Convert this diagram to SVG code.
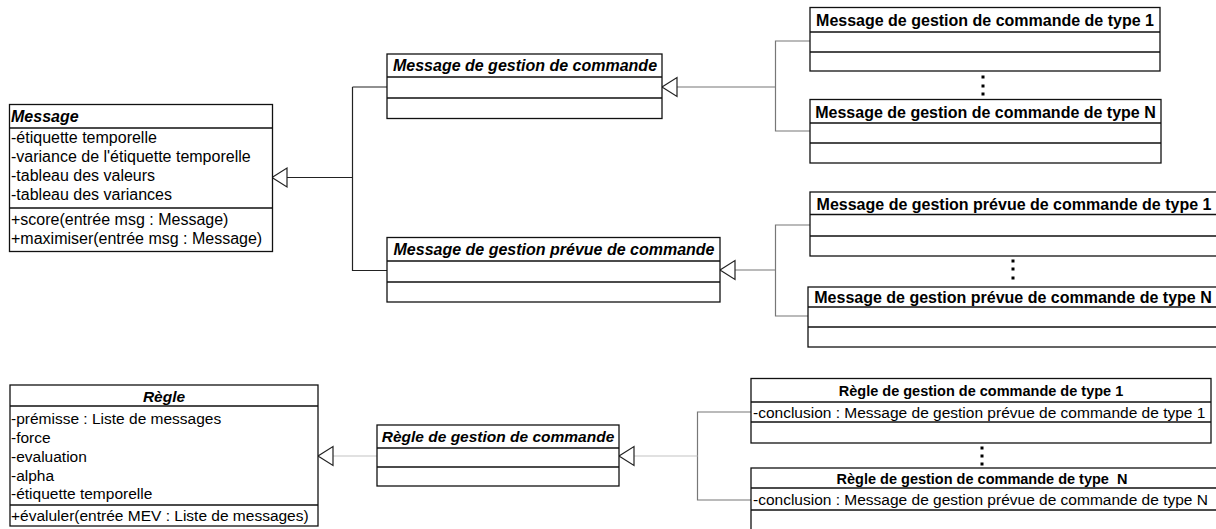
<svg xmlns="http://www.w3.org/2000/svg" width="1216" height="529" viewBox="0 0 1216 529">
<defs>
<marker id="gen" viewBox="0 0 15 20" refX="15" refY="10" markerWidth="15" markerHeight="20" markerUnits="userSpaceOnUse" orient="auto" overflow="visible">
<path d="M15,10 L0,0.5 L0,19.5 Z" fill="#fff" stroke="#222" stroke-width="1.2"/>
</marker>
</defs>
<style>
.box{fill:#fff;stroke:#111;stroke-width:1.3}
.div{stroke:#111;stroke-width:1.3;fill:none}
text{font-family:"Liberation Sans",Arial,sans-serif;fill:#000}
.abs{font-weight:bold;font-style:italic;font-size:16px}
.absr{font-weight:bold;font-style:italic;font-size:15.5px}
.con{font-weight:bold;font-size:16px}
.conr{font-weight:bold;font-size:14.5px}
.att{font-size:16px}
.attr{font-size:15.5px}
.c{text-anchor:middle}
.ln{fill:none;stroke:#222;stroke-width:1.2}
.lng{fill:none;stroke:#777;stroke-width:1.2}
.lnl{fill:none;stroke:#c4c4c4;stroke-width:1.2}
.dot{fill:#000}
</style>

<g id="connectors">
<path class="ln" d="M352.5,87 H387 M352.5,87 V270.5 H387 M352.5,177.5 H272" marker-end="url(#gen)"/>
<path class="lng" d="M810,41 H775.5 V131 H810 M775.5,87 H662" marker-end="url(#gen)"/>
<path class="lng" d="M810,225 H775.5 V316 H808 M775.5,270 H720" marker-end="url(#gen)"/>
<path class="lnl" d="M377,456 H318" marker-end="url(#gen)"/>
<path class="lng" d="M751,412 H697.5 V500 H751"/>
<path class="lnl" d="M697.5,456 H619" marker-end="url(#gen)"/>
</g>

<g id="message">
<rect class="box" x="9.5" y="104.5" width="263" height="147"/>
<path class="div" d="M9.5,128 H272.5 M9.5,208 H272.5"/>
<text class="abs" x="11" y="121.5">Message</text>
<text class="att" x="11" y="143">-étiquette temporelle</text>
<text class="att" x="11" y="162">-variance de l'étiquette temporelle</text>
<text class="att" x="11" y="181">-tableau des valeurs</text>
<text class="att" x="11" y="200">-tableau des variances</text>
<text class="att" x="11" y="225">+score(entrée msg : Message)</text>
<text class="att" x="11" y="244">+maximiser(entrée msg : Message)</text>
</g>

<g id="msg-gestion">
<rect class="box" x="387" y="54" width="275" height="64.5"/>
<path class="div" d="M387,77 H662 M387,98 H662"/>
<text class="abs c" x="525" y="71">Message de gestion de commande</text>
</g>

<g id="msg-gestion-prevue">
<rect class="box" x="387" y="237.5" width="333" height="64.5"/>
<path class="div" d="M387,261 H720 M387,282 H720"/>
<text class="abs c" x="554" y="255">Message de gestion prévue de commande</text>
</g>

<g id="msg-gestion-type1">
<rect class="box" x="810" y="7.5" width="350" height="63.5"/>
<path class="div" d="M810,32 H1160 M810,52 H1160"/>
<text class="con c" x="985" y="25.5">Message de gestion de commande de type 1</text>
</g>

<g id="msg-gestion-typeN">
<rect class="box" x="810" y="99.5" width="351" height="63.5"/>
<path class="div" d="M810,123 H1161 M810,143 H1161"/>
<text class="con c" x="985.5" y="117.5">Message de gestion de commande de type N</text>
</g>

<g id="msg-prevue-type1">
<rect class="box" x="810" y="192" width="420" height="64"/>
<path class="div" d="M810,214.5 H1230 M810,236 H1230"/>
<text class="con c" x="1014" y="209.5">Message de gestion prévue de commande de type 1</text>
</g>

<g id="msg-prevue-typeN">
<rect class="box" x="808" y="287" width="422" height="60"/>
<path class="div" d="M808,307 H1230 M808,327 H1230"/>
<text class="con c" x="1013" y="303">Message de gestion prévue de commande de type N</text>
</g>

<g id="dots">
<rect class="dot" x="981.5" y="75.5" width="3" height="3"/>
<rect class="dot" x="981.5" y="84.5" width="3" height="3"/>
<rect class="dot" x="981.5" y="92.5" width="3" height="3"/>
<rect class="dot" x="1011.5" y="259.5" width="3" height="3"/>
<rect class="dot" x="1011.5" y="267.5" width="3" height="3"/>
<rect class="dot" x="1011.5" y="276.5" width="3" height="3"/>
<rect class="dot" x="980.5" y="446.5" width="3" height="3"/>
<rect class="dot" x="980.5" y="454.5" width="3" height="3"/>
<rect class="dot" x="980.5" y="462.5" width="3" height="3"/>
</g>

<g id="regle">
<rect class="box" x="10" y="385" width="308" height="141"/>
<path class="div" d="M10,406 H318 M10,505 H318"/>
<text class="absr c" x="164" y="402">Règle</text>
<text class="attr" x="11" y="424">-prémisse : Liste de messages</text>
<text class="attr" x="11" y="443">-force</text>
<text class="attr" x="11" y="462">-evaluation</text>
<text class="attr" x="11" y="481">-alpha</text>
<text class="attr" x="11" y="499">-étiquette temporelle</text>
<text class="attr" x="11" y="521">+évaluler(entrée MEV : Liste de messages)</text>
</g>

<g id="regle-gestion">
<rect class="box" x="377" y="425" width="242" height="61"/>
<path class="div" d="M377,448 H619 M377,467 H619"/>
<text class="absr c" x="498" y="442">Règle de gestion de commande</text>
</g>

<g id="regle-type1">
<rect class="box" x="751" y="378.5" width="460" height="64.5"/>
<path class="div" d="M751,402 H1211 M751,422 H1211"/>
<text class="conr c" x="981" y="396">Règle de gestion de commande de type 1</text>
<text class="attr" x="753" y="418">-conclusion : Message de gestion prévue de commande de type 1</text>
</g>

<g id="regle-typeN">
<rect class="box" x="751" y="468" width="470" height="80"/>
<path class="div" d="M751,488 H1221 M751,510 H1221"/>
<text class="conr c" x="982" y="484" xml:space="preserve">Règle de gestion de commande de type  N</text>
<text class="attr" x="753" y="505">-conclusion : Message de gestion prévue de commande de type N</text>
</g>
</svg>
